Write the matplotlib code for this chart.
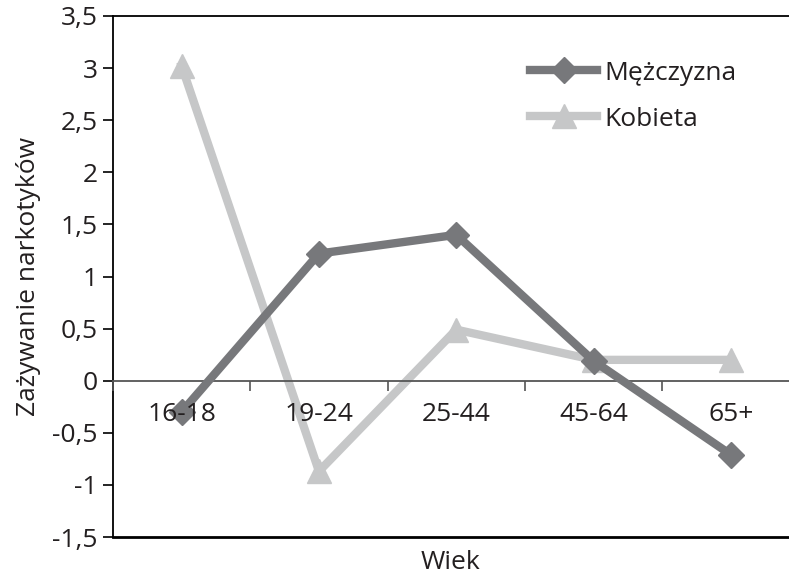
import numpy as np
import matplotlib.pyplot as plt

# dane
kategorie = ["16-18", "19-24", "25-44", "45-64", "65+"]
mezczyzna = [-0.3, 1.22, 1.4, 0.19, -0.71]
kobieta = [3.02, -0.87, 0.49, 0.2, 0.2]
y_ticks = [-1.5, -1, -0.5, 0, 0.5, 1, 1.5, 2, 2.5, 3, 3.5]

C_DARK = "#77787b"
C_LIGHT = "#c6c7c8"
C_TEXT = "#231f20"
FS = 19

plt.rcParams['font.family'] = ['Open Sans', 'DejaVu Sans']

fig = plt.figure(figsize=(7.89, 5.80), dpi=100)
ax = fig.add_axes([113/789, 43/580, 686.5/789, 521/580])

x = np.arange(len(kategorie))
ax.plot(x, mezczyzna, color=C_DARK, lw=6, marker="D", ms=13,
        label="Mężczyzna", zorder=3)
ax.plot(x, kobieta, color=C_LIGHT, lw=6, marker="^", ms=17,
        label="Kobieta", zorder=2)

ax.set_xlim(-0.5, len(kategorie) - 0.5)
ax.set_ylim(-1.5, 3.5)
ax.set_yticks(y_ticks)
ax.set_yticklabels([f"{v:g}".replace(".", ",") for v in y_ticks])

# os X na poziomie zera, ticki na granicach kategorii
ax.spines['bottom'].set_position(('data', 0))
ax.spines['bottom'].set_color("#555555")
ax.spines['bottom'].set_linewidth(1.3)
ax.spines['right'].set_visible(False)
ax.spines['top'].set_linewidth(1.3)
ax.spines['left'].set_linewidth(1.3)
ax.axhline(-1.5, color="black", lw=2.0, clip_on=False)

ax.set_xticks(np.arange(len(kategorie) + 1) - 0.5)
ax.set_xticklabels([])
ax.set_xticks(x, minor=True)
ax.set_xticklabels(kategorie, minor=True)
ax.tick_params(axis='x', which='major', direction='out', length=7, width=1.2, color="#555555")
ax.tick_params(axis='x', which='minor', length=0, pad=15, labelsize=FS, labelcolor=C_TEXT)
ax.tick_params(axis='y', direction='out', length=7, width=1.2, labelsize=FS,
               labelcolor=C_TEXT, pad=4)
ax.xaxis.set_zorder(4)  # etykiety nad liniami

ax.set_xlabel("Wiek", fontsize=FS, color=C_TEXT)
ax.xaxis.set_label_coords((450 - 113) / 686.5, -0.025)
ax.set_ylabel("Zażywanie narkotyków", fontsize=FS, color=C_TEXT, labelpad=8)

ax.legend(loc="upper left", bbox_to_anchor=(0.573, 0.96), frameon=False,
          fontsize=FS, handlelength=2.55, handletextpad=0.25, labelspacing=0.8,
          labelcolor=C_TEXT)

fig.savefig("out.png", dpi=100)
